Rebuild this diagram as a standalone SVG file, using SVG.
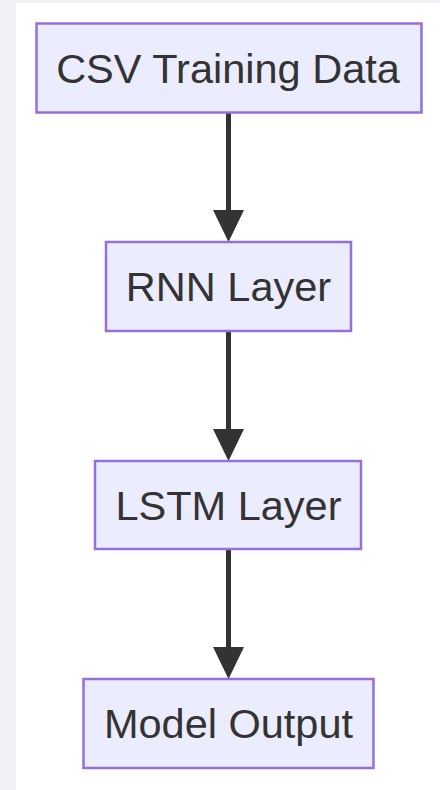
<svg xmlns="http://www.w3.org/2000/svg" width="440" height="790" viewBox="0 0 440 790">
<defs>
<style>
.node rect{fill:#ECECFF;stroke:#9370DB;stroke-width:2.5}
.node text{font-family:"Liberation Sans",Arial,sans-serif;font-size:41.5px;fill:#333;text-anchor:middle}
.edge{stroke:#333;stroke-width:5;fill:none}
.head{fill:#333}
</style>
</defs>
<rect x="0" y="0" width="440" height="790" fill="#F2F0F5"/>
<rect x="16" y="3" width="424" height="787" fill="#FFFFFF"/>
<g id="connectors">
<line class="edge" x1="228.5" y1="113" x2="228.5" y2="214"/>
<polygon class="head" points="213,210 244,210 228.5,242"/>
<line class="edge" x1="228.5" y1="331" x2="228.5" y2="433"/>
<polygon class="head" points="213,429 244,429 228.5,461"/>
<line class="edge" x1="228.5" y1="549" x2="228.5" y2="651"/>
<polygon class="head" points="213,647 244,647 228.5,679"/>
</g>
<g id="csv" class="node">
<rect x="36.5" y="23.5" width="385" height="89"/>
<text x="228" y="82.5">CSV Training Data</text>
</g>
<g id="rnn" class="node">
<rect x="106" y="242" width="245" height="89"/>
<text x="228.5" y="301">RNN Layer</text>
</g>
<g id="lstm" class="node">
<rect x="95" y="461" width="266" height="88"/>
<text x="228.5" y="520">LSTM Layer</text>
</g>
<g id="output" class="node">
<rect x="83.5" y="679" width="290" height="89"/>
<text x="228.5" y="738">Model Output</text>
</g>
</svg>
